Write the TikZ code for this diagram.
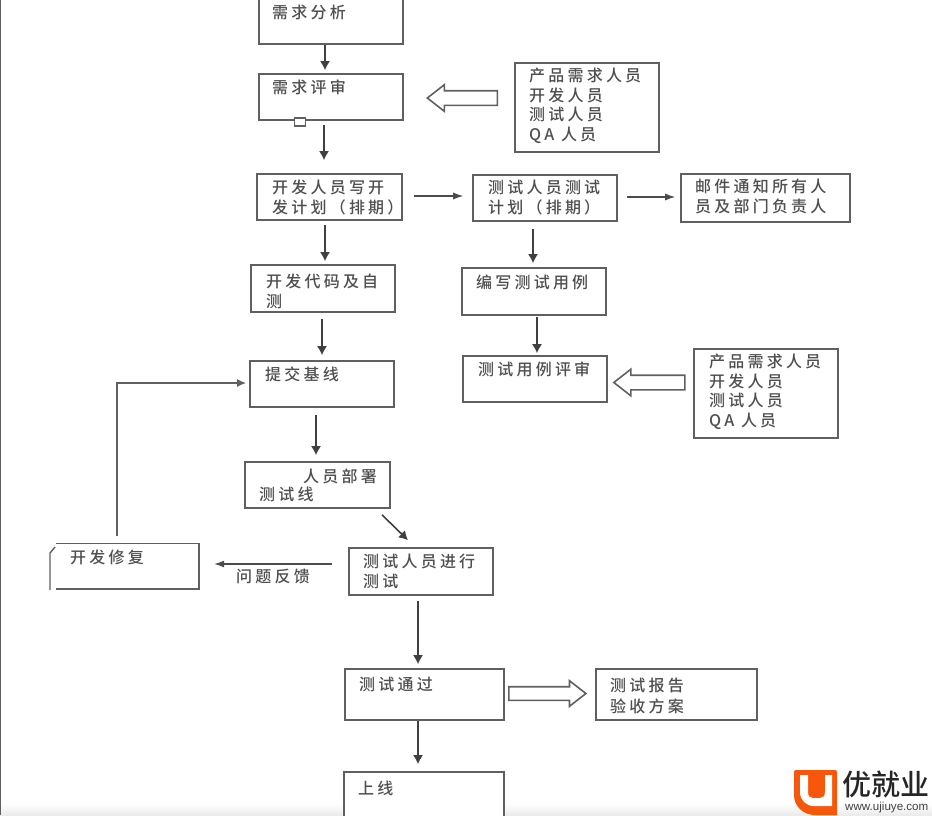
\documentclass[tikz,border=0pt]{standalone}
\usepackage{fontspec}
\setmainfont{Noto Sans CJK SC}
\newfontfamily\cnspaced[LetterSpace=20]{Noto Sans CJK SC Medium}
\newfontfamily\cnlogo{Noto Sans CJK SC Medium}
\usetikzlibrary{shapes.arrows,arrows.meta}
\definecolor{ink}{HTML}{4F4F4F}
\definecolor{edge}{HTML}{606060}
\definecolor{uorange}{HTML}{F7570A}
\tikzset{
  x=1pt,y=-1pt,
  boxnode/.style={draw=edge,line width=1.6pt,fill=white,inner sep=0pt,minimum width=#1},
  labeltext/.style={anchor=north west,inner sep=0pt,align=left,text=ink,font=\fontsize{16}{19.5}\selectfont\cnspaced},
  flow/.style={draw=black!75,line width=1.6pt,-{Latex[length=9pt,width=10pt]}},
  thinflow/.style={draw=black!70,line width=1.1pt,-{Latex[length=10pt,width=7pt]}},
  hollow/.style={single arrow,draw=edge,line width=1.6pt,fill=white,inner sep=0pt,single arrow head extend=6pt,single arrow tip angle=76}
}
\newcommand{\Bx}[5]{\pgfmathsetmacro{\bw}{#4-#2}\pgfmathsetmacro{\bh}{#5-#3}\pgfmathsetmacro{\cx}{(#2+#4)/2}\pgfmathsetmacro{\cy}{(#3+#5)/2}%
  \node[boxnode=\bw pt,minimum height=\bh pt] (#1) at (\cx,\cy) {};}
\begin{document}
\begin{tikzpicture}
\useasboundingbox (0,0) rectangle (932,815);
\fill[white] (0,0) rectangle (932,815);
\shade[top color=white,bottom color=black!8] (0,804) rectangle (932,815);
\draw[edge,line width=1pt] (0.5,0) -- (0.5,815);
% boxes
\Bx{a}{259}{-2}{403}{44}
\Bx{b}{259}{74}{403}{120}
\Bx{c}{257}{174}{402}{220}
\Bx{d}{251}{265}{395}{312}
\Bx{e}{250}{361}{394}{407}
\Bx{f}{245}{462}{390}{508}
\Bx{g}{349}{548}{493}{595}
\Bx{i}{345}{669}{504}{720}
\Bx{j}{344}{772}{504}{830}
\Bx{k}{515}{63}{659}{152}
\Bx{l}{473}{175}{617}{221}
\Bx{m}{681}{174}{850}{222}
\Bx{n}{462}{268}{606}{315}
\Bx{o}{463}{356}{607}{402}
\Bx{p}{694}{349}{838}{438}
\Bx{q}{596}{669}{757}{720}
% repair box with its broken left edge
\node[inner sep=0pt,minimum width=151pt,minimum height=46pt] (h) at (124,566) {};
\draw[edge,line width=1.6pt] (56,543.5) -- (199,543.5) -- (199,589) -- (56,589);
\draw[edge,line width=1.4pt] (55,547) -- (50,553) -- (50,590);
% small square
\node[draw=edge,line width=1.2pt,fill=white,inner sep=0pt,minimum width=11pt,minimum height=8pt] (sq) at (300,122) {};
% texts
\node[labeltext] (ta) at (272,5) {需求分析};
\node[labeltext] (tb) at (272,80) {需求评审};
\node[labeltext] (tc) at (272,180) {开发人员写开\\发计划（排期）};
\node[labeltext] (td) at (266,274) {开发代码及自\\测};
\node[labeltext] (te) at (265,367) {提交基线};
\node[labeltext] (tf) at (303,469) {人员部署};
\node[labeltext] (tf2) at (259,487) {测试线};
\node[labeltext] (tg) at (363,554) {测试人员进行\\测试};
\node[labeltext] (th) at (70,550) {开发修复};
\node[labeltext] (ti) at (359,677) {测试通过};
\node[labeltext] (tj) at (358,781) {上线};
\node[labeltext] (tk) at (529,68) {产品需求人员\\开发人员\\测试人员\\QA 人员};
\node[labeltext] (tl) at (488,180) {测试人员测试\\计划（排期）};
\node[labeltext] (tm) at (695,179) {邮件通知所有人\\员及部门负责人};
\node[labeltext] (tn) at (476,275) {编写测试用例};
\node[labeltext] (to) at (478,362) {测试用例评审};
\node[labeltext] (tp) at (709,354) {产品需求人员\\开发人员\\测试人员\\QA 人员};
\node[labeltext,font=\fontsize{16}{21}\selectfont\cnspaced] (tq) at (610,678) {测试报告\\验收方案};
\node[labeltext] (fb) at (236,569) {问题反馈};
% connectors (shifts: positive y is up on the canvas)
\draw[flow] ([xshift=-6pt]a.south) -- ([xshift=-6pt,yshift=3pt]b.north);
\draw[flow] ([shift={(-7pt,-4pt)}]b.south) -- ([shift={(-5.5pt,13pt)}]c.north);
\draw[thinflow] ([xshift=11pt,yshift=1pt]c.east) -- ([xshift=-9pt,yshift=2pt]l.west);
\draw[thinflow] ([xshift=9pt,yshift=1pt]l.east) -- ([xshift=-5pt,yshift=1pt]m.west);
\draw[flow] ([shift={(-4.5pt,-4pt)}]c.south) -- ([shift={(2pt,3pt)}]d.north);
\draw[flow] ([shift={(-12pt,-7pt)}]l.south) -- ([shift={(-1pt,4pt)}]n.north);
\draw[flow] ([shift={(3pt,-1pt)}]n.south) -- ([shift={(2pt,2pt)}]o.north);
\draw[flow] ([shift={(-1pt,-6pt)}]d.south) -- ([shift={(0pt,5pt)}]e.north);
\draw[flow] ([shift={(-6pt,-7pt)}]e.south) -- ([shift={(-1.5pt,6pt)}]f.north);
\draw[flow] ([shift={(64.5pt,-6pt)}]f.south) -- ([shift={(-13pt,7pt)}]g.north);
\draw[thinflow] ([xshift=-16pt,yshift=7.5pt]g.west) -- ([xshift=14.5pt,yshift=2pt]h.east);
\draw[flow] ([shift={(-3pt,-5pt)}]g.south) -- ([shift={(-6.5pt,4pt)}]i.north);
\draw[flow] ([xshift=-6.5pt]i.south) -- ([xshift=-6pt,yshift=7pt]j.north);
\coordinate (back) at (117,536);
\draw[draw=edge,line width=1.6pt,-{Latex[length=9pt,width=8pt]}] (back) |- ([xshift=-3pt,yshift=1pt]e.west);
% hollow arrows
\node[hollow,minimum height=70pt,shape border rotate=180] (h1) at (467,98) {\rule{0pt}{13pt}};
\node[hollow,minimum height=71pt,shape border rotate=180] (h2) at (654,382.5) {\rule{0pt}{13pt}};
\node[hollow,minimum height=77pt] (h3) at (543,693.5) {\rule{0pt}{12pt}};
% logo
\fill[uorange] (796,770) -- (835,770) .. controls (836,770) and (837,771) .. (837,772) -- (837,815) -- (815,815) .. controls (803,815) and (794,806) .. (794,795) -- (794,772) .. controls (794,771) and (795,770) .. (796,770) -- cycle;
\fill[white] (800,775) -- (808,775) -- (808,792) .. controls (808,796) and (810,798) .. (813,798) -- (820,798) .. controls (823,798) and (825,796) .. (825,792) -- (825,775) -- (832,775) -- (832,806) -- (814,806) .. controls (806,806) and (800,800) .. (800,792) -- cycle;
\node[anchor=west,inner sep=0pt,text=black!85,font=\fontsize{29}{30}\selectfont\cnlogo] (lg) at (842,784) {优就业};
\node[anchor=west,inner sep=0pt,text=black!75,font=\fontsize{11.6}{12}\selectfont\fontspec{Liberation Sans}] (url) at (845,807) {www.ujiuye.com};
\end{tikzpicture}
\end{document}
